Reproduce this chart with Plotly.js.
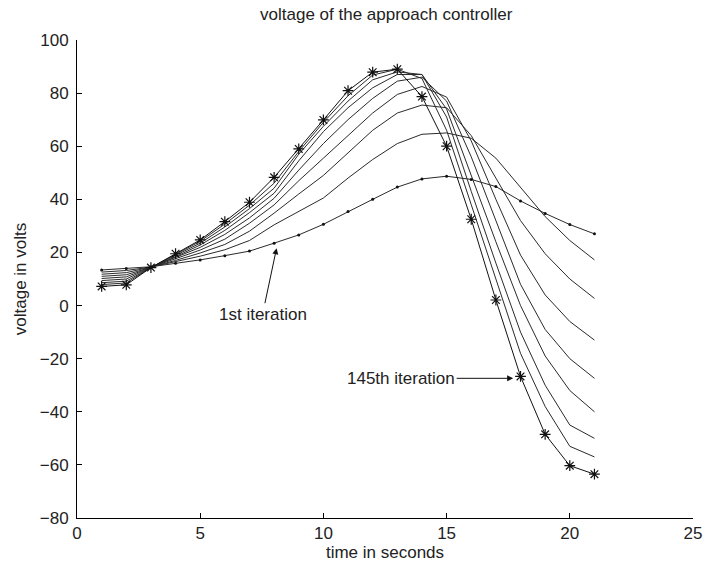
<!DOCTYPE html>
<html>
<head>
<meta charset="utf-8">
<script src="https://cdn.plot.ly/plotly-3.0.1.min.js"></script>
<style>html,body{margin:0;padding:0;background:#fff;}#chart{width:706px;height:569px;}</style>
</head>
<body>
<div id="chart"></div>
<script>
// time in seconds
var time = [1,2,3,4,5,6,7,8,9,10,11,12,13,14,15,16,17,18,19,20,21];
// voltage per iteration (1st ... 145th)
var iter1   = [13.4,14.0,14.6,15.9,17.2,18.8,20.5,23.5,26.6,30.6,35.4,40.0,44.6,47.7,48.7,47.5,44.8,39.4,34.7,30.5,27.0];
var iterB   = [12.6,13.2,14.5,16.5,18.6,21.0,24.5,30.4,35.5,40.5,48.0,55.0,61.0,64.5,65.0,63.0,55.5,44.5,33.5,24.5,17.2];
var iterC   = [11.8,12.4,14.5,17.0,19.8,23.0,28.0,34.8,42.0,49.0,57.5,66.0,72.5,75.5,74.5,64.0,48.0,32.0,19.5,10.0,2.7];
var iterD   = [11.0,11.6,14.4,17.5,20.9,25.0,31.0,37.9,47.0,55.5,64.0,72.5,79.5,82.5,78.5,62.0,40.0,19.0,4.0,-6.0,-13.0];
var iterE   = [10.2,10.8,14.4,18.0,21.9,26.8,33.0,40.4,51.0,61.0,70.0,78.0,84.5,86.0,77.0,56.0,32.0,8.0,-9.0,-20.0,-27.4];
var iterF   = [9.4,10.0,14.4,18.4,22.8,28.3,35.0,42.3,54.5,65.5,74.5,82.0,87.0,87.0,74.0,49.0,24.0,0.0,-19.0,-32.0,-40.0];
var iterG   = [8.6,9.2,14.3,18.8,23.5,29.6,36.5,44.2,57.0,67.5,77.0,85.0,88.0,87.0,71.0,43.0,16.0,-10.0,-30.0,-45.0,-50.0];
var iterH   = [7.9,8.5,14.3,19.2,24.2,30.7,37.8,46.1,58.0,69.0,79.0,86.8,89.0,85.5,66.0,38.0,10.0,-18.0,-38.0,-53.0,-57.0];
var iter145 = [7.2,7.8,14.3,19.5,24.7,31.6,38.9,48.3,59.0,69.9,80.9,87.9,89.0,78.7,60.0,32.5,2.1,-26.7,-48.5,-60.3,-63.5];

var xTicks = [0,5,10,15,20,25];
var yTicks = [-80,-60,-40,-20,0,20,40,60,80,100];

var lineCol = '#2a2a2a';
var mids = [iterB,iterC,iterD,iterE,iterF,iterG,iterH];
var traces = [];
mids.forEach(function(s){
  traces.push({x: time, y: s, mode: 'lines', line: {color: lineCol, width: 1}, hoverinfo: 'skip'});
});
traces.push({x: time, y: iter1, mode: 'lines+markers', line: {color: lineCol, width: 1},
  marker: {symbol: 'circle', size: 3, color: '#111'}});
traces.push({x: time, y: iter145, mode: 'lines+markers', line: {color: '#111', width: 1},
  marker: {symbol: 'asterisk-open', size: 9, line: {color: '#000', width: 1.2}}});

var fam = 'Liberation Sans, Arial, sans-serif';
var txt = {family: fam, size: 17, color: '#222'};

var layout = {
  width: 706, height: 569,
  margin: {l: 77, r: 13, t: 40, b: 51},
  paper_bgcolor: '#fff', plot_bgcolor: '#fff',
  showlegend: false,
  font: txt,
  title: {text: 'voltage of the approach controller', font: {family: fam, size: 17, color: '#222'},
          x: 0.547, xanchor: 'center', y: 0.975, yanchor: 'middle'},
  xaxis: {range: [0, 25], tickvals: xTicks, ticks: 'inside', ticklen: 5, tickcolor: '#000',
          showline: true, linecolor: '#000', linewidth: 1, showgrid: false, zeroline: false,
          ticklabelstandoff: 0, automargin: false, tickfont: txt,
          title: {text: 'time in seconds', font: txt, standoff: 2}},
  yaxis: {range: [-80, 100], tickvals: yTicks, ticks: 'inside', ticklen: 5, tickcolor: '#000',
          showline: true, linecolor: '#000', linewidth: 1, showgrid: false, zeroline: false,
          ticklabelstandoff: 4, automargin: false, tickfont: txt,
          title: {text: 'voltage in volts', font: txt, standoff: 8}},
  annotations: [
    {x: 8.1, y: 21.6, xref: 'x', yref: 'y', text: '1st iteration', showarrow: true,
     arrowhead: 2, arrowsize: 1.2, arrowwidth: 1, arrowcolor: '#111', ax: -14, ay: 66,
     font: txt},
    {x: 17.7, y: -27.4, xref: 'x', yref: 'y', text: '145th iteration', showarrow: true,
     arrowhead: 2, arrowsize: 1.2, arrowwidth: 1, arrowcolor: '#111', ax: -112, ay: 0,
     font: txt}
  ]
};

Plotly.newPlot('chart', traces, layout, {staticPlot: true, displayModeBar: false});
</script>
</body>
</html>
